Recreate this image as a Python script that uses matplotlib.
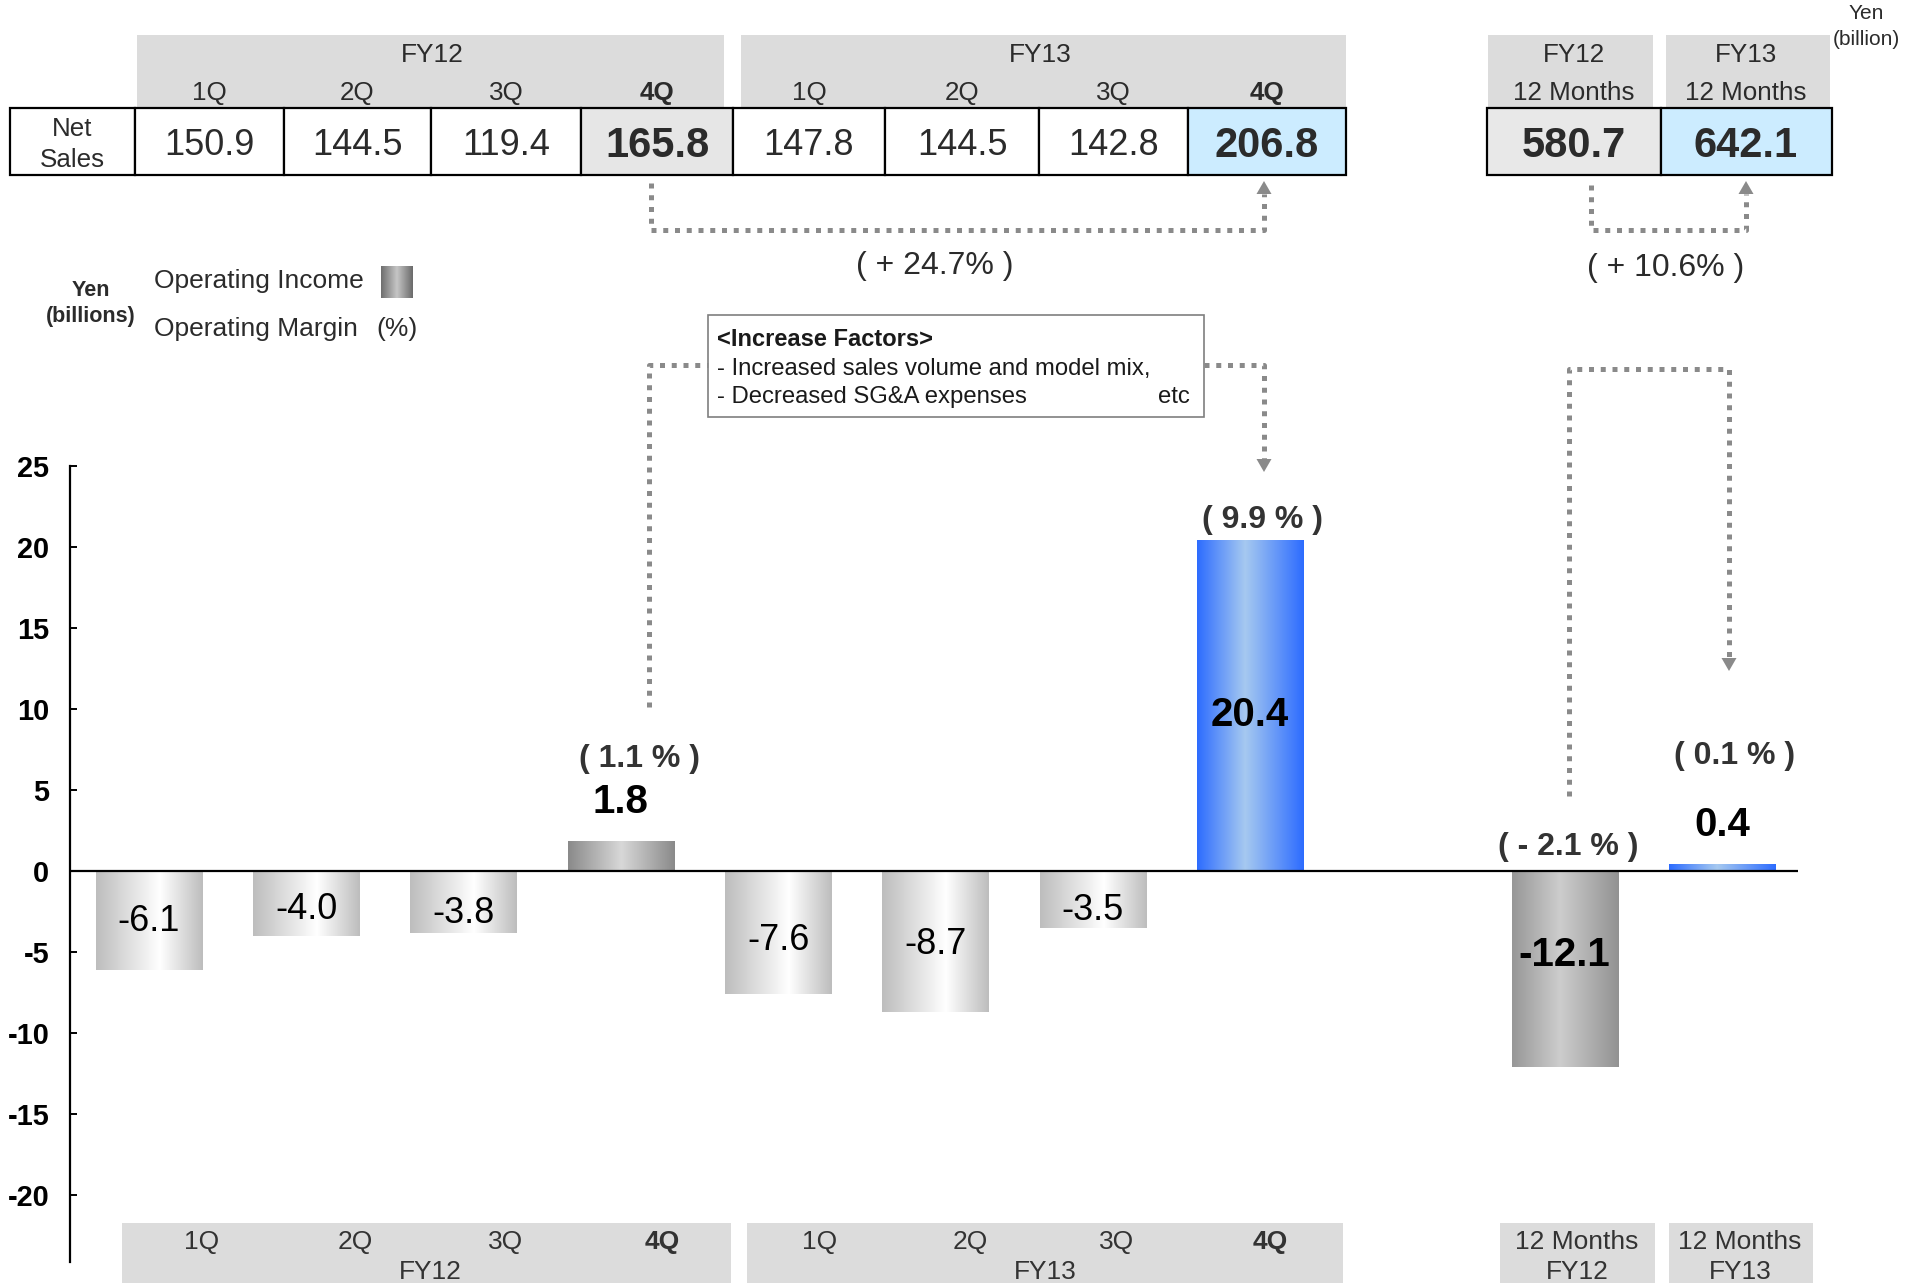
import numpy as np
import matplotlib
matplotlib.use("Agg")
import matplotlib.pyplot as plt
from matplotlib.colors import LinearSegmentedColormap
from matplotlib.patches import Rectangle, Polygon

plt.rcParams['font.family'] = ['Liberation Sans', 'DejaVu Sans']
plt.rcParams['axes.unicode_minus'] = False

# ---------------- data ----------------
quarters = ["1Q", "2Q", "3Q", "4Q"]
fiscal_years = ["FY12", "FY13"]
net_sales_fy12 = [150.9, 144.5, 119.4, 165.8]
net_sales_fy13 = [147.8, 144.5, 142.8, 206.8]
net_sales_annual = [580.7, 642.1]
annual_labels = ["12 Months", "12 Months"]

op_income = [-6.1, -4.0, -3.8, 1.8, -7.6, -8.7, -3.5, 20.4, -12.1, 0.4]
op_sales = net_sales_fy12 + net_sales_fy13 + net_sales_annual
bar_pos = [0, 1, 2, 3, 4, 5, 6, 7, 9, 10]
bar_style = ["light", "light", "light", "mid", "light", "light", "light",
             "blue", "dark", "blue"]
highlight = [3, 7, 8, 9]
y_ticks = list(range(-20, 30, 5))

# ---------------- layout ----------------
W, H = 1921, 1283
TXT = "#2B2B2B"
HDR = "#DCDCDC"
DOT = "#8A8A8A"

gradients = {
    "light": [(0.0, "#BDBDBD"), (0.6, "#FFFFFF"), (1.0, "#BDBDBD")],
    "mid": [(0.0, "#8A8A8A"), (0.5, "#D8D8D8"), (1.0, "#8A8A8A")],
    "dark": [(0.0, "#979797"), (0.45, "#CDCDCD"), (1.0, "#929292")],
    "blue": [(0.0, "#2D6CFF"), (0.45, "#A6C9F0"), (1.0, "#2D6CFF")],
    "swatch": [(0.0, "#6E6E6E"), (0.5, "#C6C6C6"), (1.0, "#6A6A6A")],
}
cmaps = {k: LinearSegmentedColormap.from_list(k, v) for k, v in gradients.items()}

fig = plt.figure(figsize=(W / 100, H / 100), dpi=100)

# ---------------- operating income bars ----------------
ax = fig.add_axes([70 / W, 1 - 1262 / H, (1798 - 70) / W, (1262 - 465.5) / H])
ax.set_facecolor("none")
bars = ax.bar(bar_pos, op_income, width=0.675, color="none", edgecolor="none", zorder=2)
for rect, st in zip(bars.patches, bar_style):
    x0, w = rect.get_x(), rect.get_width()
    y0, h = rect.get_y(), rect.get_height()
    grad = cmaps[st](np.linspace(0, 1, 256))[None, :, :]
    ax.imshow(grad, extent=[x0, x0 + w, min(y0, y0 + h), max(y0, y0 + h)],
              aspect="auto", interpolation="bilinear", zorder=2)

ax.axhline(0, color="black", lw=1.6, zorder=3)
for s in ("top", "right", "bottom"):
    ax.spines[s].set_visible(False)
ax.spines["left"].set_linewidth(1.6)
ax.set_xticks([])
ax.set_yticks(y_ticks)
ax.tick_params(axis="y", direction="in", length=5, width=1.4, pad=15,
               labelsize=20.8, labelcolor="black")
for lbl in ax.get_yticklabels():
    lbl.set_fontweight("bold")
ax.set_xlim(-0.502, 10.483)
ax.set_ylim(-24.1, 25)

# value labels (visual centre of the digits, in data units)
value_label_y = [-2.9, -2.15, -2.4, 4.45, -4.1, -4.3, -2.25, 9.8, -4.95, 3.05]
margin_label_y = [7.1, 21.85, 1.67, 7.3]
margin_label_dx = [0.12, 0.08, 0.02, 0.08]


def centred(axis, x, yc, s, size, **kw):
    axis.annotate(s, (x, yc), xytext=(0, -0.358 * size), textcoords="offset points",
                  ha="center", va="baseline", fontsize=size, **kw)


for i, (x, v) in enumerate(zip(bar_pos, op_income)):
    if i in highlight:
        centred(ax, x, value_label_y[i], f"{v:.1f}", 29, fontweight="bold",
                color="black", zorder=4)
    else:
        centred(ax, x, value_label_y[i], f"{v:.1f}", 26, color="black", zorder=4)

for k, i in enumerate(highlight):
    m = op_income[i] / op_sales[i] * 100
    txt = f"( - {abs(m):.1f} % )" if m < 0 else f"( {m:.1f} % )"
    centred(ax, bar_pos[i] + margin_label_dx[k], margin_label_y[k], txt, 23,
            fontweight="bold", color="#333333", zorder=4)

# ---------------- overlay: table, legend, notes ----------------
ov = fig.add_axes([0, 0, 1, 1], zorder=5)
ov.axis("off")


def put(x, yc, s, size, ha="center", weight="normal", color=TXT):
    ov.text(x, yc + 0.358 * size / 0.72, s, ha=ha, va="baseline", fontsize=size,
            fontweight=weight, color=color)


# header bands
ov.add_patch(Rectangle((137, 35), 724 - 137, 73, fc=HDR, ec="none"))
ov.add_patch(Rectangle((741, 35), 1346 - 741, 73, fc=HDR, ec="none"))
ov.add_patch(Rectangle((1488, 35), 1653 - 1488, 73, fc=HDR, ec="none"))
ov.add_patch(Rectangle((1666, 35), 1830 - 1666, 73, fc=HDR, ec="none"))

# quarterly net sales row
edges = [10, 135, 284, 431, 581, 733, 885, 1039, 1188, 1346]
quarter_sales = net_sales_fy12 + net_sales_fy13
fills = ["white"] * 3 + ["#E6E6E6"] + ["white"] * 3 + ["#CCECFF"]
ov.add_patch(Rectangle((edges[0], 108), edges[1] - edges[0], 67, fc="white",
                       ec="black", lw=1.6))
put((edges[0] + edges[1]) / 2, 127, "Net", 18.7)
put((edges[0] + edges[1]) / 2, 158, "Sales", 18.7)
for j, val in enumerate(quarter_sales):
    l, r = edges[j + 1], edges[j + 2]
    ov.add_patch(Rectangle((l, 108), r - l, 67, fc=fills[j], ec="black", lw=1.6))
    is4 = (j % 4 == 3)
    put((l + r) / 2, 142, f"{val:.1f}", 30 if is4 else 26,
        weight="bold" if is4 else "normal")
    put((l + r) / 2, 91, quarters[j % 4], 18.7, weight="bold" if is4 else "normal")
put(432, 53, fiscal_years[0], 19)
put(1040, 53, fiscal_years[1], 19)

# annual net sales
a_edges = [1487, 1661, 1832]
a_fills = ["#E8E8E8", "#CCECFF"]
a_centres = [1574, 1746]
for j, val in enumerate(net_sales_annual):
    ov.add_patch(Rectangle((a_edges[j], 108), a_edges[j + 1] - a_edges[j], 67,
                           fc=a_fills[j], ec="black", lw=1.6))
    put(a_centres[j], 142, f"{val:.1f}", 30, weight="bold")
    put(a_centres[j], 53, fiscal_years[j], 18.7)
    put(a_centres[j], 91, annual_labels[j], 18.7)
put(1866, 12, "Yen", 15)
put(1866, 38, "(billion)", 15)


# dotted connectors
def dotted(xs, ys):
    ov.plot(xs, ys, color=DOT, lw=3.6, linestyle=(0, (1, 1.35)),
            dash_capstyle="butt", solid_capstyle="butt")


def head(x, tip, up=True, hw=7.5, hl=13):
    b = tip + hl if up else tip - hl
    ov.add_patch(Polygon([(x, tip), (x - hw, b), (x + hw, b)], closed=True,
                         fc=DOT, ec="none"))


dotted([651, 651, 1264, 1264], [183, 230, 230, 194])
head(1264, 181, up=True)
dotted([1591, 1591, 1746, 1746], [185, 230, 230, 194])
head(1746, 181, up=True)

q_growth = (net_sales_fy13[3] / net_sales_fy12[3] - 1) * 100
a_growth = (net_sales_annual[1] / net_sales_annual[0] - 1) * 100
put(935, 263, f"( + {q_growth:.1f}% )", 23)
put(1666, 265, f"( + {a_growth:.1f}% )", 23)

# increase factors note
dotted([649, 649, 708], [707, 365, 365])
dotted([1204, 1264, 1264], [365, 365, 459])
head(1264, 472, up=False)
ov.add_patch(Rectangle((708, 315), 496, 102, fc="white", ec="#7F7F7F", lw=1.2))
put(717, 338, "<Increase Factors>", 17, ha="left", weight="bold", color="#1A1A1A")
put(717, 366, "- Increased sales volume and model mix,", 17.2, ha="left", color="#1A1A1A")
put(717, 394, "- Decreased SG&A expenses", 17.2, ha="left", color="#1A1A1A")
put(1190, 394, "etc", 17.2, ha="right", color="#1A1A1A")

dotted([1569, 1569, 1729, 1729], [796, 369, 369, 658])
head(1729, 671, up=False)

# legend
put(91, 288, "Yen", 15.5, weight="bold")
put(91, 314, "(billions)", 15.5, weight="bold")
put(154, 279, "Operating Income", 19, ha="left")
put(154, 327, "Operating Margin", 19, ha="left")
put(397, 327, "(%)", 19)
ov.imshow(cmaps["swatch"](np.linspace(0, 1, 128))[None, :, :],
          extent=[381, 413, 298, 266], aspect="auto", interpolation="bilinear")

# category bands under the bars
ov.add_patch(Rectangle((122, 1223), 731 - 122, 60, fc=HDR, ec="none"))
ov.add_patch(Rectangle((747, 1223), 1343 - 747, 60, fc=HDR, ec="none"))
ov.add_patch(Rectangle((1500, 1223), 155, 60, fc=HDR, ec="none"))
ov.add_patch(Rectangle((1669, 1223), 144, 60, fc=HDR, ec="none"))
q_x = [202, 355, 506, 662, 820, 970, 1117, 1270]
for j, x in enumerate(q_x):
    put(x, 1240, quarters[j % 4], 19, weight="bold" if j % 4 == 3 else "normal",
        color="#333333")
put(430, 1270, fiscal_years[0], 19, color="#333333")
put(1045, 1270, fiscal_years[1], 19, color="#333333")
for x, lab, fy in zip([1577, 1740], annual_labels, fiscal_years):
    put(x, 1240, lab, 19, color="#333333")
    put(x, 1270, fy, 19, color="#333333")

ov.set_xlim(0, W)
ov.set_ylim(H, 0)

fig.savefig("out.png", dpi=100)
